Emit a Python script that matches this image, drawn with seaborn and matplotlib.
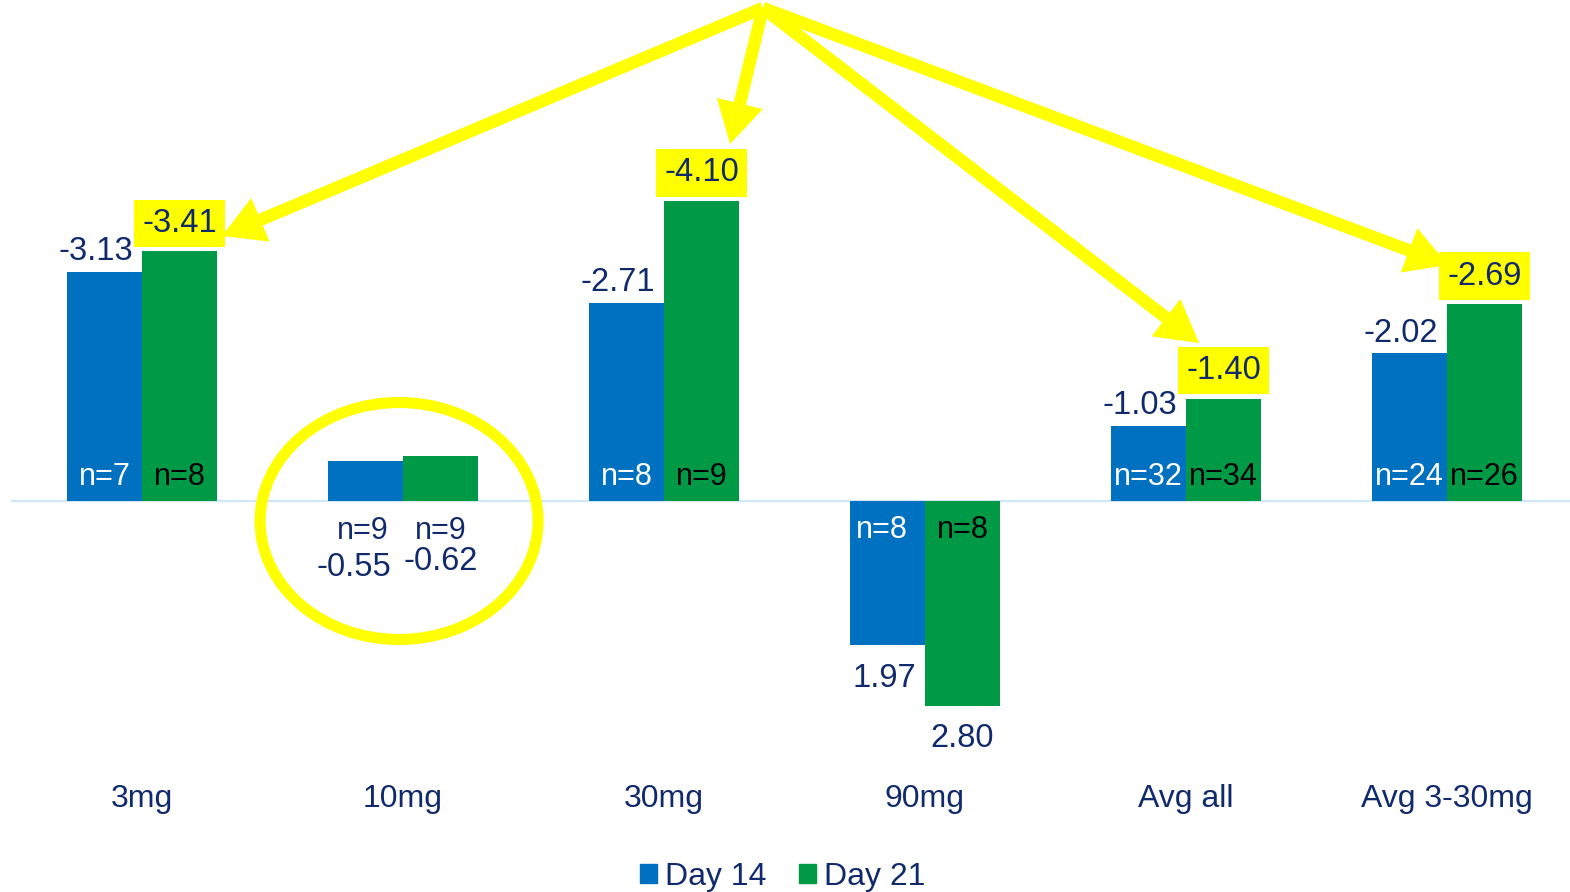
import matplotlib
matplotlib.use("Agg")
import matplotlib.pyplot as plt
import seaborn as sns
import pandas as pd
from matplotlib.patches import Ellipse, Patch

categories = ["3mg", "10mg", "30mg", "90mg", "Avg all", "Avg 3-30mg"]
series_names = ["Day 14", "Day 21"]
day14 = [-3.13, -0.55, -2.71, 1.97, -1.03, -2.02]
day21 = [-3.41, -0.62, -4.10, 2.80, -1.40, -2.69]
n14 = [7, 9, 8, 8, 32, 24]
n21 = [8, 9, 9, 8, 34, 26]
highlight21 = [True, False, True, False, True, True]

BLUE = "#0070C0"
GREEN = "#009A46"
NAVY = "#112A6B"
YELLOW = "#FFFF00"

sns.set_theme(style="white")
plt.rcParams["font.family"] = ["Liberation Sans", "DejaVu Sans"]

df = pd.DataFrame({
    "cat": categories * 2,
    "series": [series_names[0]] * len(categories) + [series_names[1]] * len(categories),
    "value": day14 + day21,
})

fig = plt.figure(figsize=(15.70, 8.92), dpi=100)
ax = fig.add_axes([11 / 1570, 1 - 771 / 892, 1 - 11 / 1570, 771 / 892])

sns.barplot(data=df, x="cat", y="value", hue="series", order=categories,
            hue_order=series_names, palette=[BLUE, GREEN], width=0.575,
            gap=0, errorbar=None, ax=ax, legend=False, saturation=1,
            linewidth=0, zorder=2)

px_per_unit = 73.2
ax.set_xlim(-131 / 261, (1570 - 11 - 131) / 261)
ax.set_ylim(270 / px_per_unit, -501 / px_per_unit)  # inverted axis
ax.axhline(0, color="#CFE7F8", lw=1.6, zorder=1)

for s in ax.spines.values():
    s.set_visible(False)
ax.set_yticks([])
ax.set_xlabel("")
ax.set_ylabel("")
ax.tick_params(axis="x", length=0, pad=9, labelsize=23, labelcolor=NAVY)

PT = 0.72  # points per pixel
vals = [day14, day21]
ns = [n14, n21]
ncolors = ["white", "black"]
FV = 23.5
FN = 22
for si, cont in enumerate(ax.containers):
    for ci, bar in enumerate(cont.patches):
        v = vals[si][ci]
        n = ns[si][ci]
        xc = bar.get_x() + bar.get_width() / 2
        hl = si == 1 and highlight21[ci]
        if ci == 1:
            ax.annotate(f"n={n}", (xc, 0), xytext=(-2 if si == 0 else 0, -30 * PT),
                        textcoords="offset points", ha="center", va="center",
                        fontsize=FN, color=NAVY)
            dy = -66 if si == 0 else -60
            ax.annotate(f"{v:.2f}", (xc, 0), xytext=(-8 if si == 0 else 0, dy * PT),
                        textcoords="offset points", ha="center", va="center",
                        fontsize=FV, color=NAVY)
            continue
        if v < 0:
            ax.annotate(f"n={n}", (xc, 0), xytext=(0, 24 * PT), textcoords="offset points",
                        ha="center", va="center", fontsize=FN, color=ncolors[si])
            off = 28 if hl else 20
            kw = {}
            if hl:
                kw["bbox"] = dict(boxstyle="square,pad=0.25", fc=YELLOW, ec="none")
            ax.annotate(f"{v:.2f}", (xc, v), xytext=(-6 if si == 0 else 0, off * PT),
                        textcoords="offset points", ha="center", va="center",
                        fontsize=FV, color=NAVY, **kw)
        else:
            ax.annotate(f"n={n}", (xc, 0), xytext=(-4 if si == 0 else 0, -29 * PT),
                        textcoords="offset points", ha="center", va="center",
                        fontsize=FN, color=ncolors[si])
            ax.annotate(f"{v:.2f}", (xc, v), xytext=(-2 if si == 0 else 0, -33 * PT),
                        textcoords="offset points", ha="center", va="center",
                        fontsize=FV, color=NAVY)

# yellow arrows from a common origin
start = (2.379, -6.735)
tips = [(0.3065, -3.62), (2.253, -4.877), (4.050, -2.158), (5.004, -3.224)]
for t in tips:
    ax.annotate("", xy=t, xytext=start,
                arrowprops=dict(arrowstyle="simple,head_length=1.5,head_width=1.7,tail_width=0.45",
                                color=YELLOW, mutation_scale=20, shrinkA=0, shrinkB=0, lw=0),
                zorder=5, annotation_clip=False)

# circle around 10mg
ax.add_patch(Ellipse((0.985, 0.273), width=278 / 261, height=237 / px_per_unit,
                     fill=False, ec=YELLOW, lw=8, zorder=4))

handles = [Patch(color=BLUE, label=series_names[0]), Patch(color=GREEN, label=series_names[1])]
fig.legend(handles=handles, loc="center", bbox_to_anchor=(0.4985, 1 - 877 / 892), ncol=2,
           frameon=False, fontsize=23, handlelength=0.55, handleheight=0.55,
           handletextpad=0.25, columnspacing=1.0, labelcolor=NAVY)

fig.savefig("out.png", dpi=100)
